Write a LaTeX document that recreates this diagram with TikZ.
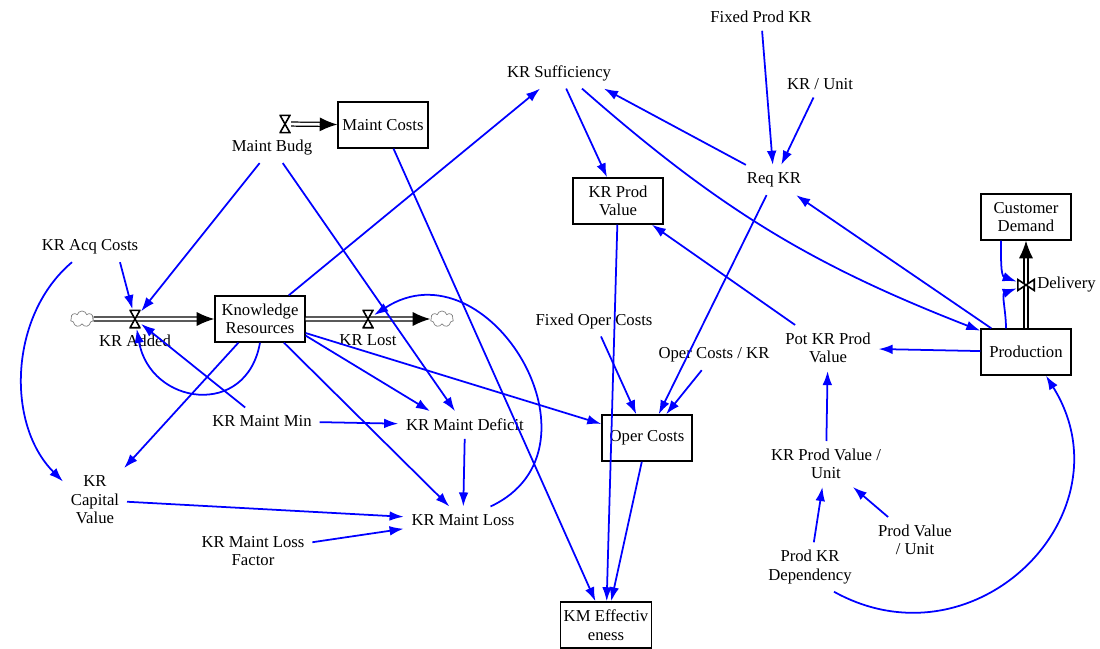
\documentclass[tikz,border=0pt]{standalone}
\usepackage{fontspec}
\setmainfont{Liberation Serif}
\usetikzlibrary{arrows.meta,positioning,shapes.symbols}

\begin{document}
\begin{tikzpicture}[x=0.02cm, y=-0.02cm,
	font=\fontsize{9.5}{10.5}\selectfont,
	stock/.style={draw, line width=0.8pt, minimum width=1.8cm, minimum height=0.92cm, align=center, inner sep=2pt},
	aux/.style={align=center, inner sep=1.5pt, outer sep=3pt},
	link/.style={blue, line width=1pt, -{Latex[length=8pt,width=5.5pt]}},
	pipe/.style={draw=black, line width=0.7pt, double=white, double distance=1.6pt, -{Latex[length=10pt,width=8pt]}},
	sink/.style={cloud, cloud puffs=7, aspect=1.5, draw=gray, minimum width=0.46cm, minimum height=0.32cm, inner sep=0pt},
	valve/.style={inner sep=0pt, minimum width=0.23cm, minimum height=0.38cm,
		path picture={\filldraw[fill=white, line width=0.9pt]
			([shift={(0.45pt,-0.45pt)}]path picture bounding box.north west) --
			([shift={(-0.45pt,-0.45pt)}]path picture bounding box.north east) --
			([shift={(0.45pt,0.45pt)}]path picture bounding box.south west) --
			([shift={(-0.45pt,0.45pt)}]path picture bounding box.south east) -- cycle;}},
	valvev/.style={inner sep=0pt, minimum width=0.36cm, minimum height=0.25cm,
		path picture={\filldraw[fill=white, line width=0.9pt]
			([shift={(0.45pt,-0.45pt)}]path picture bounding box.north west) --
			([shift={(0.45pt,0.45pt)}]path picture bounding box.south west) --
			([shift={(-0.45pt,-0.45pt)}]path picture bounding box.north east) --
			([shift={(-0.45pt,0.45pt)}]path picture bounding box.south east) -- cycle;}}]
	\useasboundingbox (0,0) rectangle (1100,649);

	\node[stock] (kr_res) at (260,319) {Knowledge\\Resources};
	\node[stock] (maint_costs) at (383,125) {Maint Costs};
	\node[stock] (kr_prod_val) at (618,201) {KR Prod\\Value};
	\node[stock] (oper_costs) at (647,438) {Oper Costs};
	\node[stock, minimum width=1.68cm] (km_eff) at (606,625) {KM Effectiv\\eness};
	\node[stock] (cust_dem) at (1026,217) {Customer\\Demand};
	\node[stock] (prod) at (1026,352) {Production};

	\node[sink] (src) at (82,319) {};
	\node[sink] (snk) at (442,319) {};

	\node[aux] (kr_suff) at (559,73) {KR Sufficiency};
	\node[aux] (fixed_prod_kr) at (761,17) {Fixed Prod KR};
	\node[aux] (kr_unit) at (820,84) {KR / Unit};
	\node[aux] (req_kr) at (774,180) {Req KR};
	\node[aux] (kr_acq) at (90,247) {KR Acq Costs};
	\node[aux] (kr_maint_min) at (262,421) {KR Maint Min};
	\node[aux] (kr_maint_def) at (465,425) {KR Maint Deficit};
	\node[aux] (kr_maint_loss) at (463,520) {KR Maint Loss};
	\node[aux] (kr_cap) at (95,500) {KR\\Capital\\Value};
	\node[aux] (loss_factor) at (253,551) {KR Maint Loss\\Factor};
	\node[aux] (fixed_oper) at (594,321) {Fixed Oper Costs};
	\node[aux] (oper_kr) at (714,355) {Oper Costs / KR};
	\node[aux] (pot_kr) at (828,348) {Pot KR Prod\\Value};
	\node[aux] (kr_pv_unit) at (826,464) {KR Prod Value /\\Unit};
	\node[aux] (prod_v_unit) at (915,540) {Prod Value\\/ Unit};
	\node[aux] (prod_kr_dep) at (810,567) {Prod KR\\Dependency};

	\draw[pipe] (src) -- (kr_res);
	\draw[pipe] (kr_res) -- (snk);
	\draw[pipe] (prod) -- (cust_dem);

	\node[valve] (v_added) at (135,319) {};
	\node[valve] (v_lost) at (368,319) {};
	\node[valve] (v_budg) at (285,124) {};
	\node[valvev] (v_deliv) at (1026,285) {};
	\draw[pipe] (v_budg) -- (maint_costs);

	\node[aux] (kr_added) [below=-1pt of v_added] {KR Added};
	\node[aux] (kr_lost) [below=-1pt of v_lost] {KR Lost};
	\node[aux] (maint_budg) [below=-1pt of v_budg, xshift=-0.26cm] {Maint Budg};
	\node[aux] (delivery) [right=-0.12cm of v_deliv] {Delivery};

	\path[link]
		([xshift=0.6cm]kr_acq.south) 	edge (v_added)
		([xshift=-0.36cm]kr_acq.south) 	edge [out=-140, in=135, looseness=0.95] (kr_cap.150)
		(maint_budg) 	edge (v_added)
		(maint_budg) 	edge ([xshift=-0.2cm]kr_maint_def.north)
		(kr_maint_min) 	edge (v_added)
		(kr_res.south) 	edge [out=-100, in=-80, looseness=1.6] (v_added)
		(kr_res) 	edge (kr_suff)
		(kr_res) 	edge (kr_cap)
		(kr_res.-20) 	edge ([xshift=-0.7cm]kr_maint_def.north)
		(kr_res) 	edge (kr_maint_loss)
		(kr_res) 	edge (oper_costs)
		(kr_maint_min) 	edge (kr_maint_def)
		(kr_maint_def) 	edge (kr_maint_loss)
		(kr_cap) 	edge (kr_maint_loss)
		(loss_factor) 	edge (kr_maint_loss)
		([xshift=0.55cm]kr_maint_loss.north) 	edge [out=25, in=33, looseness=1.55] (v_lost)
		(maint_costs) 	edge (km_eff)
		(kr_suff) 	edge (kr_prod_val)
		([xshift=0.46cm]kr_suff.south) 	edge [bend right=10] (prod.155)
		(req_kr) 	edge ([xshift=0.9cm]kr_suff.south)
		(fixed_prod_kr) 	edge (req_kr)
		(kr_unit) 	edge (req_kr)
		(prod) 	edge (req_kr)
		(req_kr) 	edge (oper_costs)
		(kr_prod_val) 	edge (km_eff)
		(oper_costs) 	edge (km_eff)
		(fixed_oper) 	edge (oper_costs)
		(oper_kr) 	edge (oper_costs)
		(pot_kr) 	edge (kr_prod_val)
		(prod) 	edge (pot_kr)
		(kr_pv_unit) 	edge (pot_kr)
		(prod_v_unit) 	edge (kr_pv_unit)
		(prod_kr_dep) 	edge (kr_pv_unit)
		([xshift=0.48cm]prod_kr_dep.south) 	edge [out=-29, in=-58, looseness=1.37] ([xshift=0.4cm]prod.south)
		([xshift=-0.5cm]cust_dem.south) 	edge [out=-90, in=160] (v_deliv)
		([xshift=-0.4cm]prod.north) 	edge [out=90, in=-160] (v_deliv)
	;
\end{tikzpicture}
\end{document}
